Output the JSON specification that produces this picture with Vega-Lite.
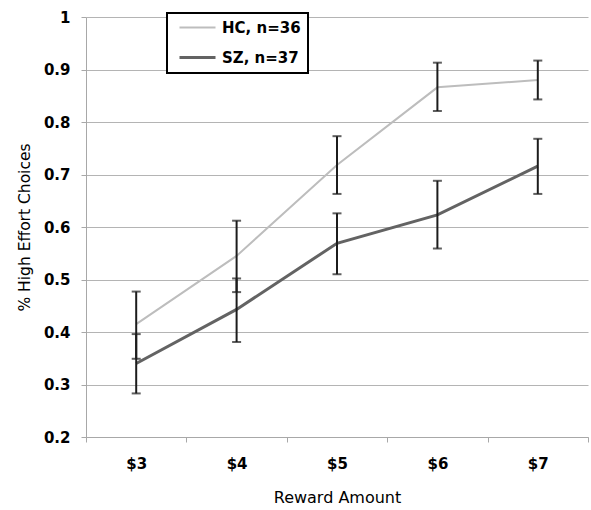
{
  "$schema": "https://vega.github.io/schema/vega-lite/v6.json",
  "width": 502,
  "height": 420,
  "autosize": {"type": "none"},
  "padding": {"left": 86, "top": 17, "right": 3, "bottom": 73},
  "background": "white",
  "config": {
    "view": {"stroke": null},
    "axis": {
      "labelFont": "DejaVu Sans",
      "labelFontWeight": "bold",
      "labelFontSize": 15,
      "labelColor": "#000000",
      "titleFont": "DejaVu Sans",
      "titleFontWeight": "normal",
      "titleColor": "#000000",
      "domainColor": "#a8a8a8",
      "tickColor": "#a8a8a8",
      "gridColor": "#b4b4b4",
      "domainWidth": 1,
      "tickWidth": 1,
      "gridWidth": 1
    }
  },
  "data": {
    "values": [
      {"group": "HC, n=36", "reward": "$3", "mean": 0.415, "lo": 0.349, "hi": 0.477},
      {"group": "HC, n=36", "reward": "$4", "mean": 0.545, "lo": 0.476, "hi": 0.612},
      {"group": "HC, n=36", "reward": "$5", "mean": 0.718, "lo": 0.663, "hi": 0.773},
      {"group": "HC, n=36", "reward": "$6", "mean": 0.866, "lo": 0.821, "hi": 0.913},
      {"group": "HC, n=36", "reward": "$7", "mean": 0.880, "lo": 0.843, "hi": 0.917},
      {"group": "SZ, n=37", "reward": "$3", "mean": 0.340, "lo": 0.283, "hi": 0.396},
      {"group": "SZ, n=37", "reward": "$4", "mean": 0.443, "lo": 0.381, "hi": 0.502},
      {"group": "SZ, n=37", "reward": "$5", "mean": 0.569, "lo": 0.510, "hi": 0.626},
      {"group": "SZ, n=37", "reward": "$6", "mean": 0.623, "lo": 0.559, "hi": 0.688},
      {"group": "SZ, n=37", "reward": "$7", "mean": 0.716, "lo": 0.663, "hi": 0.768}
    ]
  },
  "encoding": {
    "x": {
      "field": "reward",
      "type": "nominal",
      "sort": ["$3", "$4", "$5", "$6", "$7"],
      "bandPosition": 0.5,
      "scale": {"type": "band", "paddingInner": 0, "paddingOuter": 0},
      "axis": {
        "title": "Reward Amount",
        "titleFontSize": 16,
        "titlePadding": 18,
        "labelAngle": 0,
        "tickBand": "extent",
        "tickSize": 5,
        "labelPadding": 14,
        "grid": false
      }
    }
  },
  "layer": [
    {
      "mark": {"type": "line", "strokeCap": "butt"},
      "encoding": {
        "y": {
          "field": "mean",
          "type": "quantitative",
          "scale": {"domain": [0.2, 1], "nice": false, "zero": false},
          "axis": {
            "title": "% High Effort Choices",
            "titleFontSize": 15.5,
            "titlePadding": 11,
            "values": [0.2, 0.3, 0.4, 0.5, 0.6, 0.7, 0.8, 0.9, 1],
            "format": ".1~f",
            "tickSize": 5,
            "labelPadding": 11,
            "grid": true
          }
        },
        "color": {
          "field": "group",
          "type": "nominal",
          "scale": {"domain": ["HC, n=36", "SZ, n=37"], "range": ["#bdbdbd", "#636363"]},
          "legend": {
            "title": null,
            "orient": "none",
            "legendX": 81,
            "legendY": -4,
            "symbolType": "M-3.6,0H3.6",
            "symbolSize": 100,
            "symbolOffset": 16,
            "labelFont": "DejaVu Sans",
            "labelFontWeight": "bold",
            "labelFontSize": 15,
            "labelColor": "#000000",
            "labelOffset": 17,
            "labelExpr": "datum.label + ' '",
            "padding": 7,
            "rowPadding": 14,
            "fillColor": "white",
            "strokeColor": "#000000",
            "cornerRadius": 0,
            "encode": {"legend": {"update": {"strokeWidth": {"value": 2}}}}
          }
        },
        "strokeWidth": {
          "field": "group",
          "type": "nominal",
          "scale": {"domain": ["HC, n=36", "SZ, n=37"], "range": [2, 3]},
          "legend": null
        }
      }
    },
    {
      "mark": {"type": "rule", "color": "#1c1c1c", "strokeWidth": 2},
      "encoding": {
        "y": {"field": "lo", "type": "quantitative"},
        "y2": {"field": "hi"},
        "detail": {"field": "group"}
      }
    },
    {
      "mark": {"type": "tick", "color": "#1c1c1c", "thickness": 2, "size": 9, "orient": "horizontal"},
      "encoding": {
        "y": {"field": "lo", "type": "quantitative"}
      }
    },
    {
      "mark": {"type": "tick", "color": "#1c1c1c", "thickness": 2, "size": 9, "orient": "horizontal"},
      "encoding": {
        "y": {"field": "hi", "type": "quantitative"}
      }
    }
  ]
}
